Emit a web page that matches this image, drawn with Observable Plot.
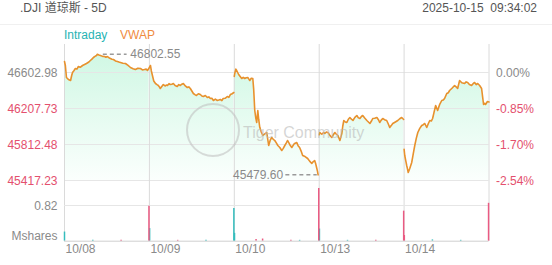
<!DOCTYPE html>
<html><head><meta charset="utf-8">
<script src="https://cdn.jsdelivr.net/npm/d3@7"></script>
<script src="https://cdn.jsdelivr.net/npm/@observablehq/plot@0.6"></script>
<style>
body{margin:0;background:#fff;font-family:"Liberation Sans",Arial,"Noto Sans CJK SC",sans-serif;}
#wrap{position:relative;width:552px;height:265px;overflow:hidden;background:#fff;}
.abs{position:absolute;white-space:pre;line-height:14px;}
#title{left:20px;top:1px;font-size:12px;color:#555;}
#time{right:15px;top:1px;font-size:12px;color:#555;}
#sep{left:0;top:24px;width:552px;height:1px;background:#f0f0f0;}
#lg1{left:64px;top:28px;font-size:12px;color:#27b3b3;}
#lg2{left:120px;top:28px;font-size:12px;color:#ef8c3f;}
#price{position:absolute;left:0;top:44px;}
#vol{position:absolute;left:0;top:180px;}
#wm{position:absolute;left:186px;top:103px;width:50px;height:50px;border:2.5px solid rgba(190,190,190,0.55);border-radius:50%;}
#wmt{left:243px;top:124px;font-size:16px;line-height:18px;color:rgba(185,185,185,0.6);}
</style></head>
<body><div id="wrap">
<div class="abs" id="title">.DJI 道琼斯 - 5D</div>
<div class="abs" id="time">2025-10-15  09:34:02</div>
<div class="abs" id="sep"></div>
<div class="abs" id="lg1">Intraday</div>
<div class="abs" id="lg2">VWAP</div>
<div id="price"></div>
<div id="vol"></div>
<div id="wm"></div>
<div class="abs" id="wmt">Tiger Community</div>
</div>
<script>
const days = ["10/08","10/09","10/10","10/13","10/14"];
const priceTicks = [46602.98, 46207.73, 45812.48, 45417.23];
const pctTicks = ["0.00%","-0.85%","-1.70%","-2.54%"];
const volTicks = [0.82];
const volUnit = "Mshares";

// [minute since open, price]
const day1 = [[0,46723.8],[4,46680],[9,46548.1],[18,46526.1],[28,46515.1],[33,46570],[37,46603.0],[44,46625],[50,46646.9],[57,46640],[64,46668.9],[72,46660],[83,46679.8],[92,46690],[101,46701.8],[110,46715],[119,46734.7],[126,46750],[133,46767.7],[140,46780],[147,46789.6],[151,46802.55],[158,46795],[165,46789.6],[175,46780],[184,46778.6],[190,46770],[197,46778.6],[204,46765],[211,46756.7],[218,46748],[225,46745.7],[234,46730],[243,46723.8],[250,46718],[257,46712.8],[268,46705],[280,46701.8],[292,46680],[303,46657.9],[315,46645],[326,46635.9],[337,46650],[349,46646.9],[358,46632],[367,46635.9],[375,46640],[381,46624.9],[388,46650]];
const day2 = [[0,46660],[5,46679.8],[9,46620],[14,46570.1],[20,46510],[28,46482.2],[35,46470],[41,46460.3],[46,46445],[50,46427.3],[57,46450],[64,46471.2],[72,46455],[78,46465],[83,46460.3],[90,46480],[96,46471.2],[103,46475],[110,46482.2],[118,46460],[128,46449.3],[135,46470],[142,46460.3],[149,46475],[156,46482.2],[165,46455],[174,46438.3],[181,46445],[188,46427.3],[195,46400],[202,46372.4],[209,46360],[216,46350.5],[225,46370],[234,46361.4],[241,46345],[248,46339.5],[257,46350],[266,46328.5],[273,46335],[280,46317.5],[287,46320],[294,46295.6],[303,46310],[312,46295.6],[319,46300],[326,46306.5],[333,46295],[339,46317.5],[348,46320],[358,46339.5],[365,46330],[372,46361.4],[380,46370],[388,46383.4]];
const day3 = [[0,46560],[2,46592.0],[7,46640],[11,46625.0],[16,46600],[20,46581.0],[27,46560],[34,46537.1],[41,46550],[48,46537.1],[55,46545],[62,46548.1],[67,46530],[71,46515.1],[78,46540],[85,46537.1],[89,46420],[94,46185.8],[99,46100],[103,46054.0],[108,46185.8],[112,46090],[117,46001.1],[124,45950],[131,45911.3],[140,45930],[149,45944.2],[153,45880],[158,45801.5],[165,45860],[172,45889.3],[179,45870],[186,45856.4],[193,45830],[200,45801.5],[209,45780],[218,45746.6],[225,45770],[232,45801.5],[239,45830],[245,45856.4],[255,45810],[264,45779.6],[275,45820],[287,45834.5],[293,45800],[300,45779.6],[307,45740],[314,45691.7],[325,45680],[337,45658.8],[346,45630],[356,45603.9],[363,45625],[369,45636.9],[374,45600],[378,45559.9],[382,45520],[385,45479.60]];
const day4 = [[0,45920],[3,45944.2],[12,45925],[20,45945],[26,45933.3],[33,45950],[40,45944.2],[50,45910],[58,45889.3],[65,45920],[72,45944.2],[79,45925],[86,45911.3],[95,45856.4],[100,45900],[104,45933.3],[108,46010],[113,46076.0],[120,46060],[127,46054.0],[134,46090],[141,46108.9],[148,46090],[155,46076.0],[164,46110],[173,46130.9],[180,46105],[187,46097.9],[194,46120],[200,46130.9],[210,46100],[219,46076.0],[226,46060],[233,46043.1],[240,46070],[246,46097.9],[255,46100],[265,46108.9],[272,46085],[278,46054.0],[285,46080],[292,46097.9],[300,46085],[310,46076.0],[317,46040],[324,45999.1],[331,46020],[338,46043.1],[350,46060],[361,46076.0],[370,46095],[379,46108.9],[388,46087.0]];
const day5 = [[0,45760],[3,45691.7],[8,45630],[12,45581.9],[16,45540],[19,45504.9],[26,45548.9],[35,45614.9],[42,45710],[49,45801.5],[56,45880],[63,45944.2],[72,45990],[81,46021.1],[88,46030],[95,46043.1],[104,45999.1],[111,46040],[118,46076.0],[125,46070],[131,46097.9],[138,46170],[145,46240.7],[154,46185.8],[163,46250],[173,46295.6],[180,46300],[186,46317.5],[196,46372.4],[203,46380],[209,46405.4],[220,46430],[232,46460.3],[239,46445],[246,46427.3],[255,46515.1],[265,46490],[278,46482.2],[285,46500],[292,46493.2],[300,46470],[310,46460.3],[317,46480],[324,46493.2],[331,46470],[338,46482.2],[347,46460],[356,46427.3],[361,46330],[365,46251.6],[370,46265],[374,46251.6],[383,46284.6],[390,46280]];

// volume: day index, minute, value (M shares), up?
const volDay    = [0,0,0,0, 1,1,1,1, 2,2,2,2,2,2, 3,3,3,3, 4,4,4,4];
const volMinute = [0,130,260,388, 1,130,260,388, 1,100,130,260,300,388, 1,130,260,388, 1,130,260,388];
const volValue  = [0.21,0.02,0.02,0.80, 0.29,0.02,0.02,0.75, 0.18,0.04,0.05,0.02,0.02,1.21, 0.28,0.02,0.02,0.69, 0.13,0.03,0.02,0.87];
const volUp     = [1,1,0,0, 1,0,1,1, 1,0,0,0,1,0, 1,1,0,0, 0,1,1,0];

const sessions = [day1, day2, day3, day4, day5];
const price = sessions.flatMap((s, d) => s.map(([m, p]) => ({pos: d + m / 390, price: p, day: d})));
const vol = volDay.map((d, i) => ({pos: d + volMinute[i] / 390, v: volValue[i], up: volUp[i] === 1}));
const maxPt = price.reduce((a, b) => b.price > a.price ? b : a);
const minPt = price.reduce((a, b) => b.price < a.price ? b : a);

const GRAY = "#8a8a8a", PINK = "#e4506e", LINE = "#e8912d", TEAL = "#35bdbd", VPINK = "#ea5a82";
const font = {background: "transparent", overflow: "visible", fontFamily: "'Liberation Sans', Arial, sans-serif", fontSize: "12px"};
const yMin = 45417.23;

const priceChart = Plot.plot({
  width: 552, height: 136, marginLeft: 64, marginRight: 63.5, marginTop: 0, marginBottom: 0,
  x: {domain: [0, 5], axis: null},
  y: {domain: [yMin, 46910.4], axis: null},
  style: font,
  marks: [
    Plot.areaY(price, {x: "pos", y1: () => yMin, y2: "price", z: "day", fill: "url(#mint)"}),
    Plot.ruleY(priceTicks, {stroke: "#e6e6e6"}),
    Plot.ruleX([0, 1, 2, 3, 4, 5], {stroke: "#dadada"}),
    Plot.lineY(price, {x: "pos", y: "price", z: "day", stroke: LINE, strokeWidth: 1.6}),
    Plot.text(priceTicks, {x: () => 0, y: d => d, text: d => d.toFixed(2), textAnchor: "end", dx: -7, dy: 1, fill: (d, i) => i === 0 ? GRAY : PINK}),
    Plot.text(priceTicks, {x: () => 5, y: d => d, text: (d, i) => pctTicks[i], textAnchor: "start", dx: 7, dy: 1, fill: (d, i) => i === 0 ? GRAY : PINK}),
    Plot.ruleY([maxPt], {y: "price", x1: d => d.pos + 0.07, x2: d => d.pos + 0.35, stroke: "#9a9a9a", strokeWidth: 1.5, strokeDasharray: "4,3"}),
    Plot.text([maxPt], {x: "pos", y: "price", text: d => d.price.toFixed(2), textAnchor: "start", dx: 33, fill: GRAY}),
    Plot.ruleY([minPt], {y: "price", x1: d => d.pos - 0.38, x2: d => d.pos - 0.01, stroke: "#9a9a9a", strokeWidth: 1.5, strokeDasharray: "4,3"}),
    Plot.text([minPt], {x: "pos", y: "price", text: d => d.price.toFixed(2), textAnchor: "end", dx: -35, fill: GRAY})
  ]
});
priceChart.insertAdjacentHTML("afterbegin", '<defs><linearGradient id="mint" gradientUnits="userSpaceOnUse" x1="0" y1="0" x2="0" y2="136"><stop offset="0" stop-color="#cdf7e2"/><stop offset="1" stop-color="#fbfffd"/></linearGradient></defs>');
document.getElementById("price").append(priceChart);

const volChart = Plot.plot({
  width: 552, height: 85, marginLeft: 64, marginRight: 63.5, marginTop: 0, marginBottom: 24.3,
  x: {domain: [0, 5], axis: null},
  y: {domain: [0, 1.394], axis: null},
  style: font,
  marks: [
    Plot.ruleX([0, 1, 2, 3, 4, 5], {stroke: "#dadada"}),
    Plot.ruleY(volTicks, {stroke: "#e6e6e6"}),
    Plot.ruleX(vol.filter(d => d.up), {x: "pos", y: "v", stroke: TEAL, strokeWidth: 1.5}),
    Plot.ruleX(vol.filter(d => !d.up), {x: "pos", y: "v", stroke: VPINK, strokeWidth: 1.5}),
    Plot.ruleY([0], {stroke: "#cfcfcf"}),
    Plot.text(volTicks, {x: () => 0, y: d => d, text: d => d.toFixed(2), textAnchor: "end", dx: -7, dy: 1, fill: GRAY}),
    Plot.text([volUnit], {x: () => 0, y: () => 0, text: d => d, textAnchor: "end", dx: -7, dy: -5, fill: GRAY}),
    Plot.text(days, {x: (d, i) => i, frameAnchor: "bottom", text: d => d, textAnchor: "start", dx: 1, dy: 11.5, fill: GRAY})
  ]
});
document.getElementById("vol").append(volChart);
</script>
</body></html>
